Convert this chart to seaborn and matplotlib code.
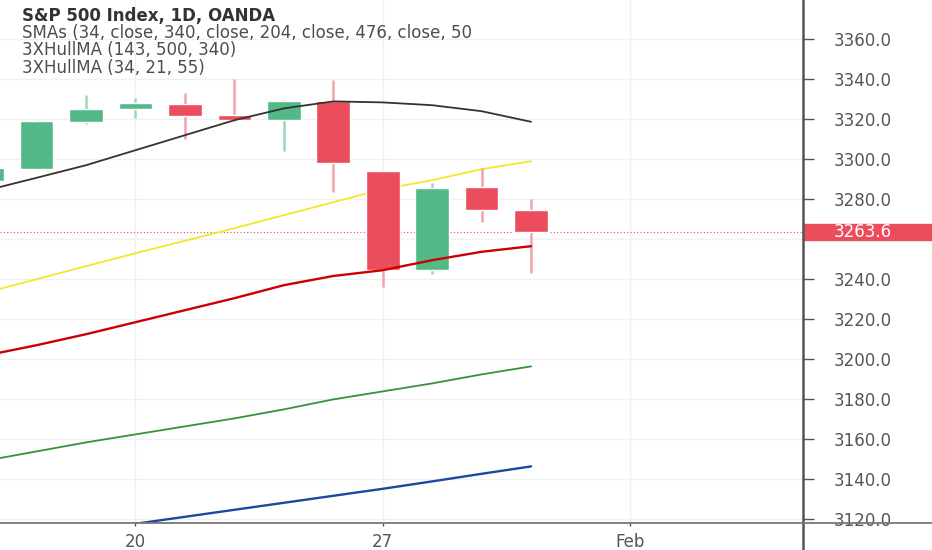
import numpy as np
import pandas as pd
import matplotlib.pyplot as plt
import matplotlib.transforms as mtransforms
from matplotlib.lines import Line2D
from matplotlib.patches import Rectangle
import seaborn as sns

# daily bars, S&P 500 (OANDA), trading days only
dates = ['2020-01-15', '2020-01-16', '2020-01-17', '2020-01-20', '2020-01-21', '2020-01-22',
         '2020-01-23', '2020-01-24', '2020-01-27', '2020-01-28', '2020-01-29', '2020-01-30']
opens = [3289.3, 3295.0, 3318.6, 3325.3, 3327.6, 3322.1, 3319.6, 3329.3, 3294.1, 3244.6, 3286.3, 3274.6]
highs = [3296.5, 3319.6, 3332.1, 3330.5, 3333.0, 3340.1, 3329.6, 3339.6, 3294.1, 3288.3, 3295.5, 3280.4]
lows = [3288.5, 3294.5, 3317.8, 3320.8, 3310.1, 3319.1, 3304.3, 3283.8, 3236.2, 3242.6, 3268.7, 3243.2]
closes = [3295.5, 3319.1, 3325.1, 3328.1, 3321.8, 3319.6, 3329.3, 3298.3, 3244.6, 3285.8, 3274.5, 3263.6]

# moving averages
ma_black = [3284.6, 3290.8, 3297.1, 3304.6, 3312.1, 3319.6, 3325.5, 3329.0, 3328.5, 3327.1, 3324.1, 3318.8]
ma_yellow = [3233.6, 3240.1, 3246.6, 3253.1, 3259.3, 3265.6, 3272.1, 3278.6, 3285.1, 3289.6, 3295.1, 3299.1]
ma_red = [3202.1, 3207.1, 3212.6, 3218.6, 3224.6, 3230.6, 3237.1, 3241.7, 3244.6, 3249.6, 3253.8, 3256.6]
ma_green = [3149.5, 3154.0, 3158.5, 3162.5, 3166.5, 3170.5, 3175.0, 3180.0, 3184.0, 3188.0, 3192.5, 3196.5]
ma_blue = [3107.2, 3110.8, 3114.2, 3117.8, 3121.3, 3124.8, 3128.3, 3131.8, 3135.3, 3139.0, 3142.8, 3146.5]

tick_dates = ['2020-01-20', '2020-01-27', '2020-02-03']
tick_labels = ['20', '27', 'Feb']
price_ticks = np.arange(3120, 3361, 20)

header = ['S&P 500 Index, 1D, OANDA',
          'SMAs (34, close, 340, close, 204, close, 476, close, 50',
          '3XHullMA (143, 500, 340)',
          '3XHullMA (34, 21, 55)']

UP = '#53b987'
DOWN = '#eb4d5c'

sns.set_theme(style='white')
plt.rcParams['font.family'] = ['DejaVu Sans']

df = pd.DataFrame({'date': pd.to_datetime(dates), 'open': opens, 'high': highs,
                   'low': lows, 'close': closes})
calendar = pd.bdate_range('2020-01-15', '2020-02-07')
df['x'] = [calendar.get_loc(d) for d in df['date']]
up = df['close'] >= df['open']

fig = plt.figure(figsize=(9.32, 5.5), dpi=100)
ax = fig.add_axes([0, 27 / 550, 803 / 932, 523 / 550])

# candles
wick_cols = np.where(up, '#9fd5bb', '#f2a3ab')
body_cols = np.where(up, UP, DOWN)
ax.vlines(df['x'], df['low'], df['high'], colors=wick_cols, lw=1.8, zorder=2)
ax.bar(df['x'], (df['close'] - df['open']).abs(), bottom=df[['open', 'close']].min(axis=1),
       width=0.68, color=body_cols, zorder=3)

# moving averages
sns.lineplot(x=df['x'], y=ma_yellow, ax=ax, color='#f5e52c', lw=1.3, zorder=1.5)
sns.lineplot(x=df['x'], y=ma_black, ax=ax, color='#333333', lw=1.3, zorder=4)
sns.lineplot(x=df['x'], y=ma_red, ax=ax, color='#cc0000', lw=1.7, zorder=4)
sns.lineplot(x=df['x'], y=ma_green, ax=ax, color='#38913a', lw=1.3, zorder=4)
sns.lineplot(x=df['x'], y=ma_blue, ax=ax, color='#1a47a0', lw=1.7, zorder=4)

# last price line + label
last = closes[-1]
ax.axhline(last, color=DOWN, ls=(0, (1, 2)), lw=0.8, zorder=1)
trans = mtransforms.blended_transform_factory(ax.transAxes, ax.transData)
ax.add_patch(Rectangle((1.0, last - 4.1), 129 / 803, 8.2, transform=trans,
                       color=DOWN, clip_on=False, zorder=10))
ax.text(1 + 31 / 803, last, '%.1f' % last, transform=trans, color='white',
        fontsize=12, va='center', ha='left', zorder=11, clip_on=False)

ax.set_xlim(0.26, 16.5)
ax.set_ylim(3118.2, 3379.7)
ax.set_xticks([calendar.get_loc(pd.Timestamp(d)) for d in tick_dates])
ax.set_xticklabels(tick_labels)
ax.set_yticks(price_ticks)
# the tick label hidden under the last-price tag is left blank
ax.set_yticklabels(['' if abs(p - last) < 8 else '%.1f' % p for p in price_ticks])
ax.yaxis.tick_right()
ax.tick_params(axis='y', direction='out', length=8, width=1, pad=14,
               colors='#555555', labelsize=12, right=True, left=False)
ax.tick_params(axis='x', direction='out', length=2, width=1, pad=5,
               colors='#555555', labelsize=12, bottom=True)
ax.grid(True, color='#eef0f4', lw=1)
ax.set_axisbelow(True)
for s in ax.spines.values():
    s.set_visible(False)
ax.set_xlabel('')
ax.set_ylabel('')

# header lines
baselines = [20.7, 38.0, 55.3, 72.6]
for i, (txt, b) in enumerate(zip(header, baselines)):
    ax.text(22 / 803, 1 - b / 523, txt, transform=ax.transAxes, fontsize=12,
            fontweight='bold' if i == 0 else 'normal',
            color='#333333' if i == 0 else '#4d4d4d', va='baseline', ha='left',
            clip_on=True, zorder=12)

# axis frame lines
fig.add_artist(Line2D([803 / 932, 803 / 932], [0, 1], transform=fig.transFigure,
                      color='#555555', lw=1.8))
fig.add_artist(Line2D([0, 1], [27 / 550, 27 / 550], transform=fig.transFigure,
                      color='#777777', lw=1.3))

fig.savefig('out.png', dpi=100)
